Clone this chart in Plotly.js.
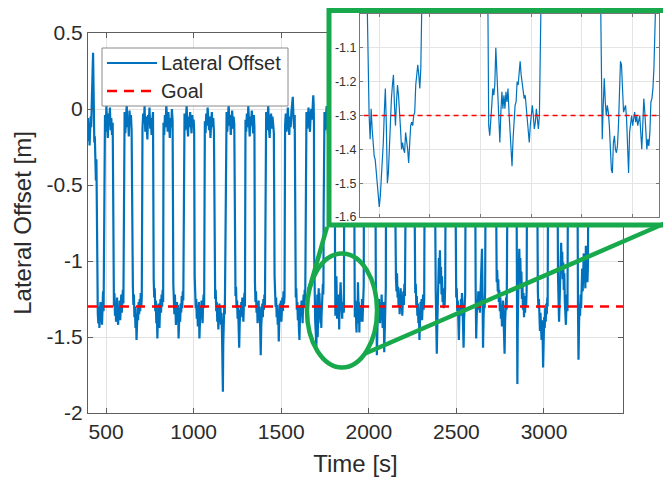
<!DOCTYPE html>
<html>
<head>
<meta charset="utf-8">
<script src="https://cdn.plot.ly/plotly-3.0.1.min.js"></script>
<style>
  html, body { margin: 0; padding: 0; background: #fff; }
  #chart { width: 663px; height: 483px; }
</style>
</head>
<body>
<div id="chart"></div>
<script>
// ---------------- data ----------------
const timeRangeS = [397, 3451];
const offsetRangeM = [-2, 0.5];
const timeTicks = [500, 1000, 1500, 2000, 2500, 3000];
const timeTickText = ['500', '1000', '1500', '2000', '2500', '3000'];
const offsetTicks = [-2, -1.5, -1, -0.5, 0, 0.5];
const offsetTickText = ['-2', '-1.5', '-1', '-0.5', '0', '0.5'];

const insetTimeRangeS = [1681, 1976];
const insetTimeTicks = [1700, 1750, 1800, 1850, 1900, 1950];
const insetOffsetRangeM = [-1.6, -1.0];
const insetOffsetTicks = [-1.6, -1.5, -1.4, -1.3, -1.2, -1.1];
const insetOffsetTickText = ['-1.6', '-1.5', '-1.4', '-1.3', '-1.2', '-1.1'];

const goalOffsetM = -1.3;

// lateral offset samples: [time s, offset m]
const offsetSamples = [
  [397,-0.06],[400,-0.21],[403,-0.10],[406,-0.24],[409,-0.15],[412,-0.05],[415,-0.12],[418,-0.02],[421,0.10],[424,0.30],[426,0.37],[428,0.20],[430,-0.12],[433,-0.22],[436,-0.18],[439,-0.38],[442,-0.47],[445,-0.33],[447,-0.55],
  [448,-0.95],[450,-1.22],[453,-1.35],[456,-1.41],[459,-1.30],[462,-1.44],[465,-1.36],[468,-1.27],[471,-1.38],[474,-1.31],[477,-1.42],[480,-1.29],[483,-1.20],[486,-1.33],
  [490,-0.12],[494,-0.04],[498,-0.15],[502,0.02],[506,-0.08],[510,-0.19],[514,-0.03],[518,-0.11],[522,0.01],[526,-0.14],[530,-0.06],[534,-0.17],[538,-0.09],
  [542,-1.18],[545,-1.30],[548,-1.21],[551,-1.36],[554,-1.27],[557,-1.40],[560,-1.33],[563,-1.24],[566,-1.38],[569,-1.42],[572,-1.31],[575,-1.36],[578,-1.26],[581,-1.39],[584,-1.30],[587,-1.22],[590,-1.34],[593,-1.27],[596,-1.19],[599,-1.28],
  [602,-0.10],[606,-0.02],[610,-0.16],[614,-0.05],[618,0.03],[622,-0.12],[626,-0.07],[630,-0.18],[634,-0.01],[638,-0.10],[642,-0.04],[646,-0.14],
  [650,-1.08],[653,-1.16],[656,-1.29],[659,-1.22],[662,-1.37],[665,-1.30],[668,-1.44],[671,-1.35],[674,-1.52],[677,-1.40],[680,-1.31],[683,-1.39],[686,-1.27],[689,-1.35],[692,-1.25],[695,-1.33],[698,-1.21],[701,-1.30],[704,-1.24],
  [708,-0.13],[712,-0.03],[716,-0.09],[720,0.02],[724,-0.15],[728,-0.05],[732,-0.11],[736,-0.20],[740,-0.04],[744,-0.09],[748,0.01],[752,-0.13],[756,-0.06],[760,-0.17],[764,-0.08],[768,-0.02],
  [772,-1.12],[775,-1.24],[778,-1.18],[781,-1.33],[784,-1.26],[787,-1.41],[790,-1.32],[793,-1.51],[796,-1.37],[799,-1.28],[802,-1.36],[805,-1.44],[808,-1.31],[811,-1.25],[814,-1.34],[817,-1.22],[820,-1.30],[823,-1.19],[826,-1.27],
  [828,-0.09],[832,-0.17],[836,-0.04],[840,-0.12],[844,0.03],[848,-0.07],[852,-0.15],[856,-0.02],[860,-0.10],[864,-0.19],[868,-0.06],[872,-0.12],[876,0.00],[880,-0.08],
  [884,-1.15],[887,-1.26],[890,-1.35],[893,-1.22],[896,-1.30],[899,-1.42],[902,-1.33],[905,-1.27],[908,-1.38],[911,-1.29],[914,-1.51],[917,-1.36],[920,-1.31],[923,-1.40],[926,-1.28],[929,-1.34],[932,-1.23],[935,-1.31],[938,-1.20],[941,-1.26],
  [944,-0.11],[948,-0.03],[952,-0.14],[956,-0.06],[960,0.02],[964,-0.10],[968,-0.18],[972,-0.05],[976,-0.12],[980,-0.02],[984,-0.09],[988,-0.16],[992,-0.04],[996,-0.11],[1000,-0.07],[1003,-0.14],
  [1006,-1.10],[1009,-1.22],[1012,-1.31],[1015,-1.25],[1018,-1.38],[1021,-1.29],[1024,-1.43],[1027,-1.34],[1030,-1.27],[1033,-1.51],[1036,-1.39],[1039,-1.30],[1042,-1.36],[1045,-1.26],[1048,-1.33],[1051,-1.41],[1054,-1.28],[1057,-1.22],[1060,-1.31],
  [1064,-0.08],[1068,-0.16],[1072,-0.03],[1076,-0.11],[1080,0.01],[1084,-0.07],[1088,-0.14],[1092,-0.05],[1096,-0.19],[1100,-0.09],[1104,-0.02],[1108,-0.12],[1112,-0.06],[1116,-0.15],
  [1120,-1.13],[1123,-1.25],[1126,-1.19],[1129,-1.33],[1132,-1.27],[1135,-1.40],[1138,-1.31],[1141,-1.45],[1144,-1.36],[1147,-1.28],[1150,-1.39],[1153,-1.30],[1156,-1.42],[1159,-1.34],[1162,-1.48],[1165,-1.70],[1167,-1.86],[1169,-1.55],[1172,-1.38],[1175,-1.29],[1178,-1.35],
  [1184,-0.10],[1188,-0.02],[1192,-0.15],[1196,-0.06],[1200,0.03],[1204,-0.11],[1208,-0.04],[1212,-0.17],[1216,-0.08],[1220,-0.01],[1224,-0.13],[1228,-0.05],[1232,-0.10],
  [1236,-1.12],[1239,-1.23],[1242,-1.17],[1245,-1.31],[1248,-1.26],[1251,-1.38],[1254,-1.29],[1257,-1.44],[1260,-1.57],[1263,-1.41],[1266,-1.32],[1269,-1.37],[1272,-1.27],[1275,-1.35],[1278,-1.24],[1281,-1.32],[1284,-1.40],[1287,-1.28],[1290,-1.21],[1293,-1.30],
  [1296,-0.07],[1300,-0.15],[1304,-0.03],[1308,-0.12],[1312,0.02],[1316,-0.08],[1320,-0.18],[1324,-0.05],[1328,-0.11],[1332,-0.01],[1336,-0.09],[1340,-0.16],[1344,-0.04],[1347,-0.12],
  [1350,-1.14],[1353,-1.27],[1356,-1.20],[1359,-1.34],[1362,-1.28],[1365,-1.41],[1368,-1.33],[1371,-1.26],[1374,-1.39],[1377,-1.30],[1380,-1.45],[1383,-1.62],[1386,-1.43],[1389,-1.34],[1392,-1.28],[1395,-1.37],[1398,-1.25],[1401,-1.32],[1404,-1.22],[1407,-1.29],
  [1410,-0.09],[1414,-0.02],[1418,-0.14],[1422,-0.06],[1426,0.02],[1430,-0.12],[1434,-0.19],[1438,-0.07],[1442,-0.03],[1446,-0.13],[1450,-0.05],[1454,-0.10],[1458,-0.16],
  [1462,-1.10],[1465,-1.22],[1468,-1.30],[1471,-1.24],[1474,-1.37],[1477,-1.29],[1480,-1.42],[1483,-1.34],[1486,-1.53],[1489,-1.38],[1492,-1.28],[1495,-1.35],[1498,-1.26],[1501,-1.40],[1504,-1.31],[1507,-1.24],[1510,-1.33],[1513,-1.20],[1516,-1.28],[1519,-1.23],
  [1522,-0.11],[1526,-0.03],[1530,-0.15],[1534,-0.07],[1538,0.01],[1542,-0.10],[1546,-0.17],[1550,-0.05],[1554,-0.12],[1558,-0.02],[1562,0.04],[1566,0.08],[1570,-0.06],[1574,-0.13],[1577,-0.04],
  [1580,-1.12],[1583,-1.24],[1586,-1.18],[1589,-1.32],[1592,-1.27],[1595,-1.39],[1598,-1.30],[1601,-1.44],[1604,-1.52],[1607,-1.37],[1610,-1.29],[1613,-1.36],[1616,-1.26],[1619,-1.33],[1622,-1.41],[1625,-1.28],[1628,-1.22],[1631,-1.31],[1634,-1.19],[1637,-1.26],
  [1640,-0.10],[1644,-0.02],[1648,-0.13],[1652,-0.05],[1656,0.01],[1660,-0.09],[1664,-0.15],[1668,-0.04],[1672,0.00],[1676,-0.07],[1680,0.03],[1683,0.09],[1685,0.04],
  [1687,-0.10],[1688,-0.95],[1689,-1.20],[1690,-1.30],[1691,-1.37],[1692,-1.28],[1693,-1.34],[1694,-1.40],[1695,-1.42],[1696,-1.43],[1697,-1.46],[1698,-1.49],[1699,-1.54],[1700,-1.57],[1701,-1.54],[1702,-1.49],[1703,-1.43],[1704,-1.38],[1705,-1.29],[1706,-1.22],[1707,-1.33],[1708,-1.50],[1709,-1.47],[1710,-1.38],[1711,-1.35],[1712,-1.25],[1713,-1.21],[1714,-1.18],[1715,-1.27],[1716,-1.33],[1717,-1.26],[1718,-1.21],[1719,-1.24],[1720,-1.28],[1721,-1.34],[1722,-1.40],[1723,-1.38],[1724,-1.40],[1725,-1.41],[1726,-1.35],[1727,-1.37],[1728,-1.40],[1729,-1.44],[1730,-1.36],[1731,-1.33],[1732,-1.32],[1733,-1.33],[1734,-1.30],[1735,-1.29],[1736,-1.21],[1737,-1.17],[1738,-1.15],[1739,-1.18],[1740,-1.22],[1741,-1.16],[1742,-0.70],
  [1743,-0.08],[1747,-0.02],[1751,-0.14],[1755,-0.06],[1759,0.02],[1763,-0.10],[1767,-0.17],[1771,-0.05],[1775,-0.11],[1779,-0.01],[1783,-0.08],[1787,-0.15],[1791,-0.04],[1795,-0.12],[1799,-0.03],[1803,-0.09],
  [1806,-0.10],[1807,-0.90],[1808,-1.33],[1809,-1.36],[1810,-1.29],[1811,-1.27],[1812,-1.22],[1813,-1.24],[1814,-1.21],[1815,-1.10],[1816,-1.17],[1817,-1.25],[1818,-1.35],[1819,-1.38],[1820,-1.29],[1821,-1.23],[1822,-1.28],[1823,-1.24],[1824,-1.28],[1825,-1.23],[1826,-1.26],[1827,-1.22],[1828,-1.29],[1829,-1.35],[1830,-1.41],[1831,-1.45],[1832,-1.37],[1833,-1.32],[1834,-1.27],[1835,-1.26],[1836,-1.20],[1837,-1.21],[1838,-1.17],[1839,-1.14],[1840,-1.18],[1841,-1.21],[1842,-1.23],[1843,-1.25],[1844,-1.24],[1845,-1.28],[1846,-1.30],[1847,-1.35],[1848,-1.38],[1849,-1.33],[1850,-1.30],[1851,-1.27],[1852,-1.30],[1853,-1.34],[1854,-1.32],[1855,-1.28],[1856,-1.31],[1857,-1.34],[1858,-1.30],[1859,-0.80],
  [1860,-0.10],[1864,-0.03],[1868,-0.14],[1872,-0.06],[1876,0.02],[1880,-0.11],[1884,-0.18],[1888,-0.05],[1892,-0.09],[1896,-0.01],[1900,-0.12],[1904,-0.06],[1908,-0.15],[1912,-0.04],
  [1917,-0.08],[1918,-0.85],[1919,-1.25],[1920,-1.37],[1921,-1.27],[1922,-1.19],[1923,-1.26],[1924,-1.30],[1925,-1.27],[1926,-1.29],[1927,-1.33],[1928,-1.42],[1929,-1.46],[1930,-1.47],[1931,-1.38],[1932,-1.36],[1933,-1.40],[1934,-1.41],[1935,-1.39],[1936,-1.33],[1937,-1.22],[1938,-1.14],[1939,-1.15],[1940,-1.24],[1941,-1.29],[1942,-1.28],[1943,-1.27],[1944,-1.31],[1945,-1.38],[1946,-1.47],[1947,-1.35],[1948,-1.32],[1949,-1.30],[1950,-1.33],[1951,-1.31],[1952,-1.29],[1953,-1.32],[1954,-1.30],[1955,-1.33],[1956,-1.31],[1957,-1.30],[1958,-1.35],[1959,-1.40],[1960,-1.33],[1961,-1.25],[1962,-1.29],[1963,-1.36],[1964,-1.40],[1965,-1.37],[1966,-1.39],[1967,-1.35],[1968,-1.26],[1969,-1.25],[1970,-1.22],[1971,-1.16],[1972,-0.55],
  [1973,-0.05],[1977,-0.12],[1981,-0.02],[1985,-0.09],[1989,-0.16],[1993,-0.04],[1997,0.03],[2001,-0.10],[2005,-0.06],[2009,-0.14],[2013,-0.02],[2017,-0.08],[2021,-0.17],[2025,-0.05],[2029,-0.11],[2033,-0.03],[2037,-0.09],
  [2040,-1.15],[2043,-1.27],[2046,-1.62],[2049,-1.40],[2052,-1.30],[2055,-1.36],[2058,-1.25],[2061,-1.33],[2064,-1.41],[2067,-1.29],[2070,-1.37],[2073,-1.22],[2076,-1.31],[2079,-1.44],[2082,-1.33],[2085,-1.27],[2088,-1.60],[2091,-1.35],[2094,-1.28],[2097,-1.18],
  [2099,-0.09],[2103,-0.16],[2107,-0.04],[2111,-0.11],[2115,0.02],[2119,-0.07],[2123,-0.13],[2127,-0.03],[2131,-0.10],[2135,-0.18],[2139,-0.06],[2143,-0.01],[2147,-0.12],
  [2152,-1.05],[2155,-1.12],[2158,-1.20],[2161,-1.08],[2164,-1.24],[2167,-1.17],[2170,-1.30],[2173,-1.22],[2176,-1.35],[2179,-1.26],[2182,-1.18],[2185,-1.31],[2188,-1.24],[2191,-1.36],[2194,-1.27],[2197,-1.20],[2200,-1.29],[2203,-1.15],[2206,-1.23],
  [2210,-0.08],[2214,-0.02],[2218,-0.14],[2222,-0.05],[2226,0.03],[2230,-0.10],[2234,-0.17],[2238,-0.06],[2242,-0.12],[2246,-0.01],[2250,-0.09],[2254,-0.15],[2258,-0.04],
  [2262,-1.10],[2265,-1.21],[2268,-1.15],[2271,-1.29],[2274,-1.23],[2277,-1.36],[2280,-1.28],[2283,-1.41],[2286,-1.33],[2289,-1.52],[2292,-1.38],[2295,-1.27],[2298,-1.34],[2301,-1.25],[2304,-1.39],[2307,-1.30],[2310,-1.22],[2313,-1.32],[2316,-1.26],
  [2320,-0.11],[2324,-0.03],[2328,-0.15],[2332,-0.07],[2336,0.01],[2340,-0.09],[2344,-0.18],[2348,-0.05],[2352,-0.12],[2356,-0.02],[2360,-0.10],[2364,-0.16],[2368,-0.04],[2372,-0.08],[2376,-0.13],
  [2382,-1.20],[2385,-1.45],[2388,-1.61],[2391,-1.42],[2394,-1.28],[2397,-1.12],[2400,-0.98],[2403,-1.08],[2406,-0.93],[2409,-1.15],[2412,-1.04],[2415,-1.22],[2418,-1.10],[2421,-1.27],[2424,-1.18],[2427,-1.31],[2430,-1.22],[2433,-1.29],[2436,-1.16],
  [2440,-0.07],[2444,-0.15],[2448,-0.03],[2452,-0.11],[2456,0.02],[2460,-0.08],[2464,-0.16],[2468,-0.04],[2472,-0.10],[2476,-0.01],[2480,-0.13],[2484,-0.06],[2488,-0.18],[2492,-0.09],
  [2496,-1.12],[2499,-1.24],[2502,-1.18],[2505,-1.33],[2508,-1.26],[2511,-1.45],[2514,-1.52],[2517,-1.37],[2520,-1.29],[2523,-1.36],[2526,-1.25],[2529,-1.33],[2532,-1.21],[2535,-1.30],[2538,-1.41],[2541,-1.57],[2544,-1.38],[2547,-1.27],[2550,-1.22],
  [2554,-0.10],[2558,-0.02],[2562,-0.13],[2566,-0.06],[2570,0.03],[2574,-0.09],[2578,-0.17],[2582,-0.05],[2586,-0.11],[2590,-0.03],[2594,-0.08],[2598,-0.15],[2602,-0.04],[2606,-0.12],
  [2610,-1.18],[2613,-1.51],[2616,-1.36],[2619,-1.25],[2622,-1.32],[2625,-1.20],[2628,-1.29],[2631,-1.23],[2634,-1.34],[2637,-1.26],[2640,-1.12],[2643,-1.01],[2646,-0.92],[2649,-1.20],[2652,-1.57],[2655,-1.38],[2658,-1.25],[2661,-1.31],[2664,-1.20],
  [2668,-0.09],[2672,-0.16],[2676,-0.04],[2680,-0.12],[2684,0.01],[2688,-0.07],[2692,-0.14],[2696,-0.03],[2700,-0.10],[2704,-0.19],[2708,-0.06],[2712,-0.01],[2716,-0.11],[2720,-0.05],[2724,-0.13],
  [2730,-1.14],[2733,-1.06],[2736,-1.20],[2739,-1.12],[2742,-1.27],[2745,-1.19],[2748,-1.33],[2751,-1.24],[2754,-1.38],[2757,-1.29],[2760,-1.43],[2763,-1.34],[2766,-1.26],[2769,-1.37],[2772,-1.48],[2775,-1.61],[2778,-1.40],[2781,-1.30],[2784,-1.24],[2787,-1.32],
  [2790,-0.10],[2794,-0.03],[2798,-0.14],[2802,-0.06],[2806,0.02],[2810,-0.09],[2814,-0.17],[2818,-0.05],[2822,-0.12],[2826,-0.02],[2830,-0.08],[2834,-0.15],[2838,-0.04],[2842,-0.11],
  [2846,-1.30],[2848,-1.81],[2850,-1.45],[2853,-1.22],[2856,-1.05],[2859,-0.92],[2862,-1.10],[2865,-0.98],[2868,-1.18],[2871,-1.07],[2874,-1.25],[2877,-1.15],[2880,-1.32],[2883,-1.21],[2886,-1.37],[2889,-1.26],[2892,-1.34],[2895,-1.23],[2898,-1.30],[2901,-1.19],
  [2904,-0.08],[2908,-0.15],[2912,-0.03],[2916,-0.11],[2920,0.02],[2924,-0.07],[2928,-0.16],[2932,-0.04],[2936,-0.12],[2940,-0.01],[2944,-0.09],[2948,-0.14],[2952,-0.05],[2956,-0.10],[2960,-0.17],
  [2965,-1.20],[2968,-1.31],[2971,-1.25],[2974,-1.38],[2977,-1.46],[2980,-1.34],[2983,-1.42],[2986,-1.52],[2989,-1.39],[2992,-1.47],[2995,-1.70],[2998,-1.50],[3001,-1.37],[3004,-1.44],[3007,-1.31],[3010,-1.40],[3013,-1.28],[3016,-1.35],[3019,-1.24],[3021,-1.30],
  [3024,-0.10],[3028,-0.02],[3032,-0.13],[3036,-0.06],[3040,0.03],[3044,-0.09],[3048,-0.18],[3052,-0.05],[3056,-0.11],[3060,-0.02],[3064,-0.08],[3068,-0.15],[3072,-0.04],[3076,-0.12],
  [3080,-1.10],[3083,-1.22],[3086,-1.40],[3089,-1.28],[3092,-1.15],[3095,-0.98],[3098,-0.88],[3101,-1.05],[3104,-0.94],[3107,-1.12],[3110,-1.01],[3113,-1.19],[3116,-1.08],[3119,-1.27],[3122,-1.34],[3125,-1.42],[3128,-1.30],[3131,-1.22],[3134,-1.33],
  [3138,-0.09],[3142,-0.16],[3146,-0.04],[3150,-0.11],[3154,0.02],[3158,-0.07],[3162,-0.14],[3166,-0.03],[3170,-0.10],[3174,-0.18],[3178,-0.06],[3182,-0.01],[3186,-0.12],[3190,-0.05],
  [3194,-1.30],[3197,-1.65],[3200,-1.42],[3203,-1.28],[3206,-1.36],[3209,-1.22],[3212,-1.31],[3215,-1.16],[3218,-1.05],[3221,-1.20],[3224,-1.09],[3227,-0.95],[3230,-1.12],[3233,-1.02],[3236,-1.18],[3239,-0.90],[3242,-1.07],[3245,-0.96],[3248,-1.14],[3251,-1.03],
  [3254,-0.06]
];

// ---------------- figure geometry (pixels) ----------------
const W = 663, H = 483;
const M = { l: 88, r: 0, t: 8, b: 70 };
const PW = W - M.l - M.r, PH = H - M.t - M.b;
const px = x => (x - M.l) / PW;          // pixel column -> paper x
const py = y => (H - M.b - y) / PH;      // pixel row    -> paper y

const FONT = 'Liberation Sans, Arial, Helvetica, sans-serif';
const INK = '#2b2b2b';
const AXIS = '#5e5e5e';
const GRID = '#e2e2e2';
const BLUE = '#0072BD';
const RED = '#FF0000';
const GREEN = '#17A94B';

const times = offsetSamples.map(s => s[0]);
const offsets = offsetSamples.map(s => s[1]);

const traces = [
  { // main signal
    x: times, y: offsets, xaxis: 'x', yaxis: 'y', type: 'scatter', mode: 'lines',
    line: { color: BLUE, width: 2.2 }, hoverinfo: 'skip', showlegend: false
  },
  { // goal
    x: timeRangeS, y: [goalOffsetM, goalOffsetM], xaxis: 'x', yaxis: 'y', type: 'scatter', mode: 'lines',
    line: { color: RED, width: 2.5, dash: '9px,7px' }, hoverinfo: 'skip', showlegend: false
  },
  { // white panel behind the zoomed view
    x: [], y: [], xaxis: 'x2', yaxis: 'y2', type: 'scatter', mode: 'lines',
    hoverinfo: 'skip', showlegend: false
  },
  { // zoomed signal
    x: times, y: offsets, xaxis: 'x3', yaxis: 'y3', type: 'scatter', mode: 'lines',
    line: { color: BLUE, width: 1.2 }, hoverinfo: 'skip', showlegend: false
  },
  { // zoomed goal
    x: timeRangeS, y: [goalOffsetM, goalOffsetM], xaxis: 'x3', yaxis: 'y3', type: 'scatter', mode: 'lines',
    line: { color: RED, width: 1.3, dash: '5px,4px' }, hoverinfo: 'skip', showlegend: false
  }
];

const mainAxis = {
  ticks: 'inside', ticklen: 5, tickcolor: AXIS, tickwidth: 1,
  showline: true, linecolor: AXIS, linewidth: 1, mirror: 'ticks',
  showgrid: true, gridcolor: GRID, gridwidth: 1, zeroline: false,
  tickfont: { family: FONT, size: 21, color: INK }
};

const insetAxis = {
  ticks: 'inside', ticklen: 3, tickcolor: '#777', tickwidth: 1,
  showline: true, linecolor: '#777', linewidth: 1, mirror: 'ticks',
  showgrid: true, gridcolor: '#e4e4e4', gridwidth: 1, zeroline: false,
  tickfont: { family: FONT, size: 12.5, color: '#333' }
};

const layout = {
  width: W, height: H,
  margin: M,
  paper_bgcolor: '#ffffff', plot_bgcolor: '#ffffff',
  font: { family: FONT, color: INK },
  showlegend: false,
  xaxis: Object.assign({}, mainAxis, {
    domain: [px(88), px(623)], range: timeRangeS, anchor: 'y',
    tickvals: timeTicks, ticktext: timeTickText,
    title: { text: 'Time [s]', font: { family: FONT, size: 24, color: INK }, standoff: 12 }
  }),
  yaxis: Object.assign({}, mainAxis, {
    domain: [py(413), py(33)], range: offsetRangeM, anchor: 'x',
    tickvals: offsetTicks, ticktext: offsetTickText,
    title: { text: 'Lateral Offset [m]', font: { family: FONT, size: 24, color: INK }, standoff: 8 }
  }),
  xaxis2: { domain: [px(329), 1], range: [0, 1], anchor: 'y2', visible: false, fixedrange: true },
  yaxis2: { domain: [py(225), py(10.5)], range: [0, 1], anchor: 'x2', visible: false, fixedrange: true },
  xaxis3: Object.assign({}, insetAxis, {
    domain: [px(360), px(659)], range: insetTimeRangeS, anchor: 'y3',
    tickvals: insetTimeTicks, showticklabels: false
  }),
  yaxis3: Object.assign({}, insetAxis, {
    domain: [py(217), py(14)], range: insetOffsetRangeM, anchor: 'x3',
    tickvals: insetOffsetTicks, ticktext: insetOffsetTickText
  }),
  shapes: [
    // ellipse around the zoomed region
    { type: 'circle', xref: 'x', yref: 'y', x0: 1647, x1: 2047, y0: -1.70, y1: -0.95,
      line: { color: GREEN, width: 4.5 }, layer: 'above' },
    // connectors to the zoom panel
    { type: 'line', xref: 'paper', yref: 'paper', x0: px(309), y0: py(290), x1: px(327), y1: py(227),
      line: { color: GREEN, width: 4.5 }, layer: 'above' },
    { type: 'line', xref: 'paper', yref: 'paper', x0: px(364), y0: py(354), x1: px(668), y1: py(222),
      line: { color: GREEN, width: 4.5 }, layer: 'above' },
    // zoom panel frame
    { type: 'rect', xref: 'paper', yref: 'paper', x0: px(329), x1: px(668), y0: py(225), y1: py(10.5),
      line: { color: GREEN, width: 5 }, fillcolor: 'rgba(0,0,0,0)', layer: 'above' },
    // legend box
    { type: 'rect', xref: 'paper', yref: 'paper', x0: px(102), x1: px(288), y0: py(106), y1: py(48),
      line: { color: '#8a8a8a', width: 1 }, fillcolor: '#ffffff', layer: 'above' },
    { type: 'line', xref: 'paper', yref: 'paper', x0: px(107), x1: px(157), y0: py(63), y1: py(63),
      line: { color: BLUE, width: 2 }, layer: 'above' },
    { type: 'line', xref: 'paper', yref: 'paper', x0: px(107), x1: px(157), y0: py(91), y1: py(91),
      line: { color: RED, width: 2.5, dash: '10px,7px' }, layer: 'above' }
  ],
  annotations: [
    { text: 'Lateral Offset', xref: 'paper', yref: 'paper', x: px(159), y: py(63),
      xanchor: 'left', yanchor: 'middle', showarrow: false,
      font: { family: FONT, size: 20, color: INK } },
    { text: 'Goal', xref: 'paper', yref: 'paper', x: px(159), y: py(91),
      xanchor: 'left', yanchor: 'middle', showarrow: false,
      font: { family: FONT, size: 20, color: INK } }
  ]
};

Plotly.newPlot('chart', traces, layout, { staticPlot: true, displayModeBar: false });
</script>
</body>
</html>
